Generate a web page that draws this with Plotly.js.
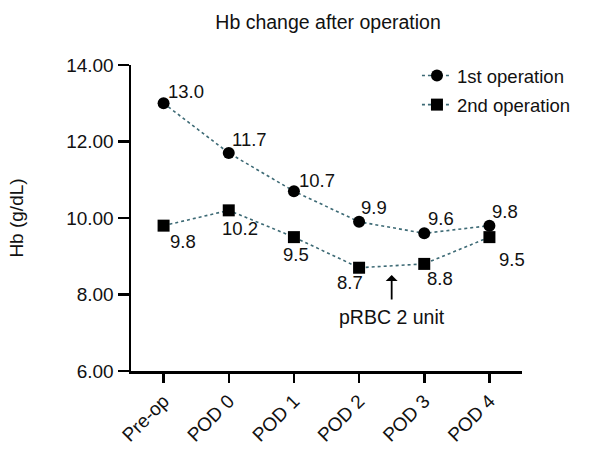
<!DOCTYPE html>
<html>
<head>
<meta charset="utf-8">
<script src="https://cdn.plot.ly/plotly-3.0.1.min.js"></script>
<style>html,body{margin:0;padding:0;background:#fff;}</style>
</head>
<body>
<div id="chart" style="width:589px;height:454px;"></div>
<script>
const categories = ['Pre-op', 'POD 0', 'POD 1', 'POD 2', 'POD 3', 'POD 4'];
const firstOp = [13.0, 11.7, 10.7, 9.9, 9.6, 9.8];
const secondOp = [9.8, 10.2, 9.5, 8.7, 8.8, 9.5];
const firstLabels = ['13.0', '11.7', '10.7', '9.9', '9.6', '9.8'];
const secondLabels = ['9.8', '10.2', '9.5', '8.7', '8.8', '9.5'];
const yTicks = [6, 8, 10, 12, 14];
const yTickText = ['6.00', '8.00', '10.00', '12.00', '14.00'];
const noteText = 'pRBC 2 unit';
const noteX = 3.5;      // between POD 2 and POD 3
const noteArrowY = 8.51; // arrow tip (Hb value)
const noteTextY = 7.41;  // text centre (Hb value)

// label placement offsets in pixels (style only)
const firstOffsets = [[22, 12], [21, 13], [23, 11], [15, 14], [17, 15], [16, 14]];
const secondOffsets = [[19, -16], [11, -18], [2, -17], [-9, -15], [16, -15], [23, -22]];

const FONT = 'Arial, "Liberation Sans", Helvetica, sans-serif';
const lineColor = '#3d6a75';
const xIdx = categories.map((c, i) => i);

const traces = [
  {
    x: xIdx, y: firstOp, name: '1st operation',
    mode: 'lines+markers',
    line: {color: lineColor, dash: 'dot', width: 1.6},
    marker: {symbol: 'circle', size: 12, color: '#000'},
    legendgroup: 'a', cliponaxis: false
  },
  {
    x: xIdx, y: secondOp, name: '2nd operation',
    mode: 'lines+markers',
    line: {color: lineColor, dash: 'dot', width: 1.6},
    marker: {symbol: 'square', size: 12, color: '#000'},
    legendgroup: 'b', cliponaxis: false
  }
];

const labelFont = {family: FONT, size: 18.5, color: '#111'};
const annotations = [];
firstOp.forEach((v, i) => annotations.push({
  x: xIdx[i], y: v, xref: 'x', yref: 'y', text: firstLabels[i], showarrow: false,
  xanchor: 'center', yanchor: 'middle', xshift: firstOffsets[i][0], yshift: firstOffsets[i][1], font: labelFont
}));
secondOp.forEach((v, i) => annotations.push({
  x: xIdx[i], y: v, xref: 'x', yref: 'y', text: secondLabels[i], showarrow: false,
  xanchor: 'center', yanchor: 'middle', xshift: secondOffsets[i][0], yshift: secondOffsets[i][1], font: labelFont
}));
// arrow
annotations.push({
  x: noteX, y: noteArrowY, xref: 'x', yref: 'y', text: '', showarrow: true,
  axref: 'pixel', ayref: 'pixel', ax: 0, ay: 26, arrowhead: 1, arrowsize: 1.1, arrowwidth: 1.8, arrowcolor: '#000',
  standoff: 0, startstandoff: 0
});
// note text
annotations.push({
  x: noteX, y: noteTextY, xref: 'x', yref: 'y', text: noteText, showarrow: false,
  xanchor: 'center', yanchor: 'middle',
  font: {family: FONT, size: 19.5, color: '#111'}
});

const layout = {
  width: 589, height: 454,
  margin: {l: 131, r: 67, t: 65, b: 83},
  paper_bgcolor: '#fff', plot_bgcolor: '#fff',
  font: {family: FONT, color: '#111', size: 19},
  title: {text: 'Hb change after operation', x: 0.557, xanchor: 'center', y: 0.952, yanchor: 'middle',
          font: {family: FONT, size: 19.5, color: '#111'}},
  showlegend: true,
  legend: {x: 1.138, y: 1.026, xanchor: 'right', yanchor: 'top',
           traceorder: 'grouped', tracegroupgap: 2,
           font: {family: FONT, size: 18.5, color: '#111'}, bgcolor: 'rgba(0,0,0,0)'},
  xaxis: {
    range: [-0.5, 5.5], tickvals: xIdx, ticktext: categories,
    tickangle: -45, showline: true, linecolor: '#000', linewidth: 2.5,
    ticks: 'outside', ticklen: 9, tickwidth: 2.5, tickcolor: '#000',
    showgrid: false, zeroline: false, tickfont: {family: FONT, size: 19, color: '#111'}
  },
  yaxis: {
    range: [6, 14], tickvals: yTicks, ticktext: yTickText,
    showline: true, linecolor: '#000', linewidth: 2.5,
    ticks: 'outside', ticklen: 11, tickwidth: 2.5, tickcolor: '#000',
    showgrid: false, zeroline: false, tickfont: {family: FONT, size: 19, color: '#111'},
    title: {text: 'Hb (g/dL)', standoff: 38, font: {family: FONT, size: 19, color: '#111'}}
  },
  annotations: annotations
};

Plotly.newPlot('chart', traces, layout, {displayModeBar: false, staticPlot: true});
</script>
</body>
</html>
